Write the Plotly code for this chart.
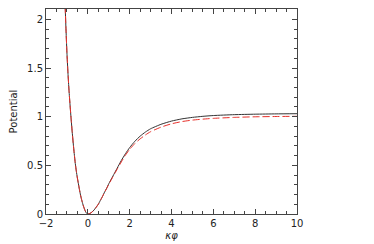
import plotly.graph_objects as go

# Black solid curve
x_black = [-1.1, -1.05, -1.0, -0.95, -0.9, -0.85, -0.8, -0.75, -0.7, -0.65, -0.6, -0.55, -0.5,
           -0.45, -0.4, -0.35, -0.3, -0.25, -0.2, -0.15, -0.1, -0.05, 0.0,
           0.1, 0.2, 0.3, 0.4, 0.5, 0.6, 0.7, 0.8, 0.9, 1.0, 1.2, 1.4, 1.6, 1.8, 2.0,
           2.25, 2.5, 2.75, 3.0, 3.5, 4.0, 4.5, 5.0, 5.5, 6.0, 7.0, 8.0, 9.0, 10.0]
v_black = [2.24, 1.93, 1.66, 1.45, 1.27, 1.12, 0.98, 0.85, 0.73, 0.62, 0.52, 0.44, 0.37,
           0.31, 0.25, 0.195, 0.15, 0.11, 0.075, 0.045, 0.02, 0.005, 0.0,
           0.005, 0.02, 0.042, 0.07, 0.10, 0.14, 0.18, 0.225, 0.265, 0.31, 0.39, 0.47, 0.55, 0.62, 0.683,
           0.748, 0.80, 0.842, 0.876, 0.922, 0.955, 0.978, 0.993, 1.004, 1.012, 1.021, 1.026, 1.029, 1.031]

# Red dashed curve
x_red = x_black
v_red = [2.24, 1.93, 1.66, 1.45, 1.27, 1.12, 0.98, 0.85, 0.73, 0.62, 0.52, 0.44, 0.37,
         0.31, 0.25, 0.195, 0.15, 0.11, 0.075, 0.045, 0.02, 0.005, 0.0,
         0.005, 0.02, 0.042, 0.07, 0.10, 0.14, 0.18, 0.223, 0.262, 0.305, 0.383, 0.46, 0.535, 0.605, 0.665,
         0.725, 0.772, 0.812, 0.846, 0.893, 0.927, 0.95, 0.965, 0.975, 0.983, 0.993, 0.999, 1.002, 1.004]

x_ticks = [-2, 0, 2, 4, 6, 8, 10]
y_ticks = [0, 0.5, 1, 1.5, 2]
y_tick_text = ["0", "0.5", "1", "1.5", "2"]

fig = go.Figure()
fig.add_trace(go.Scatter(x=x_black, y=v_black, mode="lines",
                         line=dict(color="#333333", width=1, shape="spline", smoothing=0.5),
                         showlegend=False))
fig.add_trace(go.Scatter(x=x_red, y=v_red, mode="lines",
                         line=dict(color="#e8302a", width=1, dash="7px,3px", shape="spline", smoothing=0.5),
                         showlegend=False))

axis_common = dict(showgrid=False, zeroline=False, showline=True, linecolor="#444444",
                   linewidth=1, mirror="allticks", ticks="inside", ticklen=5,
                   tickcolor="#444444", tickwidth=1, automargin=False,
                   tickfont=dict(family="DejaVu Sans", size=10, color="#222222"))

fig.update_xaxes(range=[-2, 10], tickvals=x_ticks,
                 minor=dict(dtick=0.5, ticks="inside", ticklen=3, tickcolor="#444444", showgrid=False),
                 title=dict(text="<i>κφ</i>", font=dict(family="DejaVu Sans", size=10, color="#222222"), standoff=3),
                 **axis_common)
fig.update_yaxes(range=[0, 2.107], tickvals=y_ticks, ticktext=y_tick_text,
                 minor=dict(dtick=0.1, ticks="inside", ticklen=3, tickcolor="#444444", showgrid=False),
                 title=dict(text="Potential", font=dict(family="DejaVu Sans", size=10, color="#222222"), standoff=8),
                 **axis_common)

# page body has an 8px default margin, so the figure is sized/offset to compensate
fig.update_layout(width=366, height=236, margin=dict(l=38, r=77, t=1, b=30),
                  plot_bgcolor="white", paper_bgcolor="white")

fig.write_html("out.html")
